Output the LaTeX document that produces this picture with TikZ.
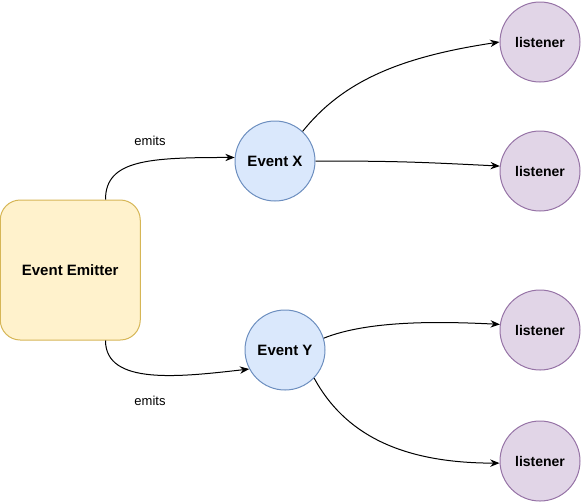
\documentclass[tikz,border=0pt]{standalone}
\usepackage{fontspec}
\setmainfont{Liberation Sans}
\usetikzlibrary{calc,arrows.meta}
\definecolor{emfill}{HTML}{FFF2CC}
\definecolor{emline}{HTML}{D6B656}
\definecolor{evfill}{HTML}{DAE8FC}
\definecolor{evline}{HTML}{6C8EBF}
\definecolor{lsfill}{HTML}{E1D5E7}
\definecolor{lsline}{HTML}{9673A6}
\tikzset{
	emitterbox/.style={draw=emline, fill=emfill, rounded corners=15pt, minimum width=105pt, minimum height=105pt, line width=0.75pt, font=\bfseries\fontsize{11.25}{13}\selectfont},
	eventnode/.style={circle, draw=evline, fill=evfill, minimum size=60pt, inner sep=0pt, line width=0.75pt, font=\bfseries\fontsize{11.25}{13}\selectfont},
	listenernode/.style={circle, draw=lsline, fill=lsfill, minimum size=60pt, inner sep=0pt, line width=0.75pt, font=\bfseries\fontsize{10.5}{12}\selectfont},
	emitslabel/.style={font=\fontsize{9.75}{11}\selectfont},
	flow/.style={draw=black, line width=0.75pt, -{Stealth[length=7pt,width=5.5pt]}}
}

\begin{document}
\begin{tikzpicture}[x=0.75pt, y=-0.75pt]
			%%%%% START %%%%%
			\useasboundingbox (0, 0) rectangle (581, 501);
			
			\node[emitterbox] (emitter) at (70.25, 270) {Event Emitter};
			
			\node[eventnode] (evx) at (275, 161) {Event X};
			\node[eventnode] (evy) at (285, 350) {Event Y};
			
			\node[listenernode] (lisa) at (540, 42) {listener};
			\node[listenernode] (lisb) at (540, 171) {listener};
			\node[listenernode] (lisc) at (540, 330) {listener};
			\node[listenernode] (lisd) at (540, 461) {listener};
			
			\node[emitslabel] (emitsx) at (150, 141) {emits};
			\node[emitslabel] (emitsy) at (150, 401) {emits};
			
			\draw[flow] ($(emitter.north)!0.5!(emitter.north east)$) .. controls +(0, -40) and +(-85, 0) .. (evx.175);
			\draw[flow] ($(emitter.south)!0.5!(emitter.south east)$) .. controls +(0, 45) and +(-70, 8) .. (evy.208);
			
			\draw[flow] (evx.47) .. controls +(40, -50) and +(-100, 15) .. (lisa.west);
			\draw[flow] (evx.east) .. controls +(80, 0) and +(-80, -4) .. (lisb.173);
			
			\draw[flow] (evy.17) .. controls +(45, -18) and +(-60, -3) .. (lisc.172);
			\draw[flow] (evy.-44) .. controls +(30, 55) and +(-100, 0) .. (lisd.183);
			
			%%%%% END %%%%%
\end{tikzpicture}
\end{document}
